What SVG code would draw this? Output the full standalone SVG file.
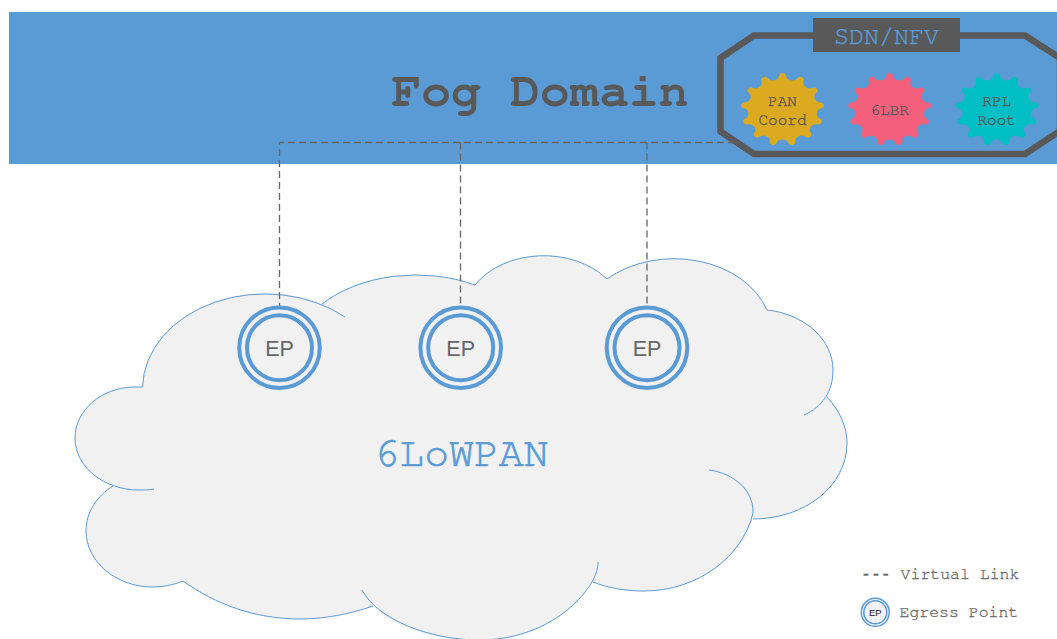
<svg xmlns="http://www.w3.org/2000/svg" xmlns:xlink="http://www.w3.org/1999/xlink" width="1057" height="639" viewBox="0 0 1057 639">
<style>
.mono{font-family:"FreeMono","Liberation Mono","Courier New",monospace}
.ring{fill:none;stroke:#5b9bd5}
.ep{font-family:"Liberation Sans",Arial,sans-serif;font-size:21.500px;fill:#666;text-anchor:middle}
.star{font-size:16px;fill:#595959;stroke:#595959;stroke-width:.35;text-anchor:middle}
.cl{fill:none;stroke:#5b9bd5;stroke-width:1}
.vl{fill:none;stroke:#666;stroke-width:1.300;stroke-dasharray:7 4}
.lg{font-size:16.500px;fill:#666;stroke:#666;stroke-width:.3}
</style>
<defs>
<path id="burst" d="M-3.31-37.86A3.4 3.4 0 0 1 3.31-37.86A6.2 6.2 0 0 0 14.66-35.06A3.4 3.4 0 0 1 20.52-31.98A6.2 6.2 0 0 0 29.27-24.24A3.4 3.4 0 0 1 33.03-18.78A6.2 6.2 0 0 0 37.18-7.85A3.4 3.4 0 0 1 37.98-1.27A6.2 6.2 0 0 0 36.57 10.33A3.4 3.4 0 0 1 34.22 16.52A6.2 6.2 0 0 0 27.59 26.13A3.4 3.4 0 0 1 22.63 30.53A6.2 6.2 0 0 0 12.28 35.96A3.4 3.4 0 0 1 5.85 37.55A6.2 6.2 0 0 0 -5.85 37.55A3.4 3.4 0 0 1 -12.28 35.96A6.2 6.2 0 0 0 -22.63 30.53A3.4 3.4 0 0 1 -27.59 26.13A6.2 6.2 0 0 0 -34.22 16.52A3.4 3.4 0 0 1 -36.57 10.33A6.2 6.2 0 0 0 -37.98 -1.27A3.4 3.4 0 0 1 -37.18 -7.85A6.2 6.2 0 0 0 -33.03 -18.78A3.4 3.4 0 0 1 -29.27 -24.24A6.2 6.2 0 0 0 -20.52 -31.98A3.4 3.4 0 0 1 -14.66 -35.06A6.2 6.2 0 0 0 -3.31 -37.86Z"/>
</defs>
<g id="fog-domain">
<rect x="9" y="12" width="1048" height="152" fill="#5b9bd5"/>
<text class="mono" x="540" y="106" font-size="49.500" font-weight="bold" fill="#595959" text-anchor="middle">Fog Domain</text>
</g>
<g id="sdn-nfv">
<path d="M754 35.500H1025L1060 58V131L1025 154H754L720.500 131.500V58Z" fill="none" stroke="#595959" stroke-width="6.500"/>
<rect x="813" y="18" width="147" height="34" fill="#595959"/>
<text class="mono" x="886.500" y="43.500" font-size="25" fill="#5b9bd5" stroke="#5b9bd5" stroke-width=".4" text-anchor="middle">SDN/NFV</text>
</g>
<g id="pan-coord">
<use xlink:href="#burst" href="#burst" transform="translate(782.500 109.500) scale(1.03 .9)" fill="#dcaa20"/>
<text class="mono star" x="782.500" y="106">PAN</text>
<text class="mono star" x="782.500" y="125.300">Coord</text>
</g>
<g id="lbr">
<use xlink:href="#burst" href="#burst" transform="translate(889.700 109.500) scale(1.03 .9)" fill="#f45f7b"/>
<text class="mono star" x="889.700" y="115.300">6LBR</text>
</g>
<g id="rpl-root">
<use xlink:href="#burst" href="#burst" transform="translate(996.700 109.500) scale(1.03 .9)" fill="#00bfc4"/>
<text class="mono star" x="996.700" y="106">RPL</text>
<text class="mono star" x="996.700" y="125.300">Root</text>
</g>
<g id="cloud">
<path fill="#f1f1f1" d="M142.500 387A122.500 95 0 0 1 322 304A125 85 0 0 1 475 285A80 60 0 0 1 607 279A98 75 0 0 1 767 310C805 314 833 340 833 370C833 380 831 389 827 397C840 411 847 427 847 443C847 486 805 519 753 519C743 556 698 591 644 591C626 591 608 588 593 582C572 615 530 640 480 640C430 640 390 625 373 606C350 614 325 619 300 619C255 619 215 604 183 581C173 585 163 587 152 587C117 587 86 562 86 531C86 512 97 496 113 486C90 477 75 459 75 438C75 410 102 387 135 387Z"/>
<path class="cl" d="M142.500 387A122.500 95 0 0 1 345 317"/>
<path class="cl" d="M322 304A125 85 0 0 1 475 285A80 60 0 0 1 607 279A98 75 0 0 1 767 310C805 314 833 340 833 370C833 392 822 407 804 415"/>
<path class="cl" d="M827 397C840 411 847 427 847 443C847 486 805 519 753 519"/>
<path class="cl" d="M709 470C733 473 754 490 753 513C743 556 698 591 644 591C626 591 608 588 593 582"/>
<path class="cl" d="M598 562C598 568 596 575 592 582C572 615 530 640 480 640C430 640 378 620 362 590"/>
<path class="cl" d="M373 606C350 614 325 619 300 619C255 619 215 604 183 581C173 585 163 587 152 587C117 587 86 562 86 531C86 512 97 496 113 486"/>
<path class="cl" d="M154 489C149 490 144 490 139 490C104 490 75 467 75 438C75 410 102 387 135 387H142.500"/>
<text class="mono" x="461.500" y="466" font-size="41.500" fill="#5b9bd5" stroke="#5b9bd5" stroke-width=".7" text-anchor="middle">6LoWPAN</text>
</g>
<g id="connectors">
<path class="vl" d="M735 142.500H279.500V306"/>
<path class="vl" d="M460.500 142.500V306"/>
<path class="vl" d="M647 142.500V306"/>
</g>
<g id="ep1">
<circle class="ring" cx="279.500" cy="347.700" r="40.300" stroke-width="4"/>
<circle class="ring" cx="279.500" cy="347.700" r="32.500" stroke-width="4"/>
<text class="ep" x="279.500" y="356">EP</text>
</g>
<g id="ep2">
<circle class="ring" cx="460.700" cy="347.700" r="40.300" stroke-width="4"/>
<circle class="ring" cx="460.700" cy="347.700" r="32.500" stroke-width="4"/>
<text class="ep" x="460.700" y="356">EP</text>
</g>
<g id="ep3">
<circle class="ring" cx="647" cy="347.700" r="40.300" stroke-width="4"/>
<circle class="ring" cx="647" cy="347.700" r="32.500" stroke-width="4"/>
<text class="ep" x="647" y="356">EP</text>
</g>
<g id="legend">
<text class="mono lg" x="861" y="579"><tspan font-family="'Liberation Mono',monospace">---</tspan> Virtual Link</text>
<circle cx="875.300" cy="612.300" r="12.500" fill="#f1f1f1"/>
<circle class="ring" cx="875.300" cy="612.300" r="14" stroke-width="1.500"/>
<circle class="ring" cx="875.300" cy="612.300" r="11.500" stroke-width="1.500"/>
<text x="875.300" y="616" font-family="'Liberation Sans',Arial,sans-serif" font-size="9.500" fill="#222" text-anchor="middle">EP</text>
<text class="mono lg" x="899.500" y="617">Egress Point</text>
</g>
</svg>
